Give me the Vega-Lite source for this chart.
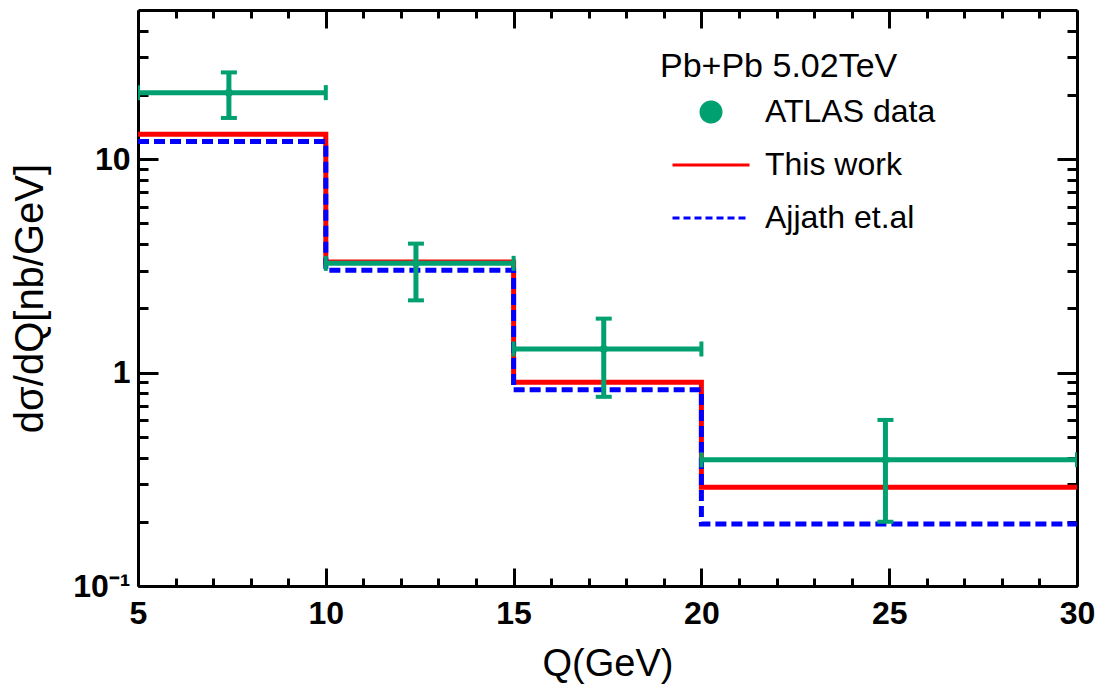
{
  "$schema": "https://vega.github.io/schema/vega-lite/v6.json",
  "width": 939,
  "height": 576,
  "autosize": {"type": "none"},
  "padding": {"left": 138, "top": 10, "right": 25, "bottom": 106},
  "background": "white",
  "config": {
    "view": {"stroke": null},
    "axis": {
      "grid": false,
      "domainColor": "black",
      "domainWidth": 3,
      "tickColor": "black",
      "tickWidth": 3,
      "labelFont": "Liberation Sans",
      "labelFontWeight": "bold",
      "labelFontSize": 32,
      "labelColor": "black",
      "labelFlush": false,
      "labelOverlap": false,
      "titleFont": "Liberation Sans",
      "titleFontWeight": "normal",
      "titleColor": "black"
    }
  },
  "datasets": {
    "atlas": [
      {"series": "ATLAS data", "q": 7.42, "lo": 5, "hi": 10, "v": 20.5, "vlo": 15.6, "vhi": 25.5},
      {"series": "ATLAS data", "q": 12.4, "lo": 10, "hi": 15, "v": 3.25, "vlo": 2.18, "vhi": 4.02},
      {"series": "ATLAS data", "q": 17.4, "lo": 15, "hi": 20, "v": 1.29, "vlo": 0.77, "vhi": 1.79},
      {"series": "ATLAS data", "q": 24.9, "lo": 20, "hi": 30, "v": 0.39, "vlo": 0.2, "vhi": 0.6}
    ],
    "curves": [
      {"model": "This work", "q": 5, "v": 13.1},
      {"model": "This work", "q": 10, "v": 3.3},
      {"model": "This work", "q": 15, "v": 0.9},
      {"model": "This work", "q": 20, "v": 0.29},
      {"model": "This work", "q": 30, "v": 0.29},
      {"model": "Ajjath et.al", "q": 5, "v": 12.1},
      {"model": "Ajjath et.al", "q": 10, "v": 3.02},
      {"model": "Ajjath et.al", "q": 15, "v": 0.83},
      {"model": "Ajjath et.al", "q": 20, "v": 0.195},
      {"model": "Ajjath et.al", "q": 30, "v": 0.195}
    ]
  },
  "layer": [
    {
      "data": {"name": "curves"},
      "transform": [{"filter": "datum.model === 'This work'"}],
      "mark": {"type": "line", "interpolate": "step-after", "strokeWidth": 5, "clip": true},
      "encoding": {
        "x": {
          "field": "q", "type": "quantitative",
          "scale": {"domain": [5, 30], "nice": false, "zero": false},
          "axis": {
            "orient": "bottom",
            "values": [5,6,7,8,9,10,11,12,13,14,15,16,17,18,19,20,21,22,23,24,25,26,27,28,29,30],
            "labelExpr": "datum.value % 5 === 0 ? datum.label : ''",
            "tickSize": {"condition": {"test": "datum.value % 5 === 0", "value": -18}, "value": -8},
            "labelPadding": 30,
            "title": "Q(GeV)",
            "titleFontSize": 38,
            "titlePadding": 6
          }
        },
        "y": {
          "field": "v", "type": "quantitative",
          "scale": {"type": "log", "domain": [0.1, 50], "nice": false},
          "axis": {
            "orient": "left",
            "values": [0.1,0.2,0.3,0.4,0.5,0.6,0.7,0.8,0.9,1,2,3,4,5,6,7,8,9,10,20,30,40],
            "labelExpr": "datum.value === 0.1 ? '10⁻¹' : datum.value === 1 ? '1' : datum.value === 10 ? '10' : ''",
            "tickSize": {"condition": {"test": "datum.value === 0.1 || datum.value === 1 || datum.value === 10", "value": -20}, "value": -10},
            "labelPadding": 28,
            "title": "dσ/dQ[nb/GeV]",
            "titleFontSize": 40,
            "titlePadding": 22
          }
        },
        "color": {
          "field": "model", "type": "nominal",
          "scale": {"domain": ["ATLAS data", "This work", "Ajjath et.al"], "range": ["#00A070", "#FF0000", "#0000FF"]},
          "legend": {
            "orient": "none",
            "direction": "vertical",
            "legendX": 522,
            "legendY": 40,
            "padding": 0,
            "title": "Pb+Pb 5.02TeV",
            "titleFont": "Liberation Sans",
            "titleFontSize": 34,
            "titleFontWeight": "normal",
            "titleColor": "black",
            "titleLimit": 500,
            "titlePadding": 12,
            "labelFont": "Liberation Sans",
            "labelFontSize": 32,
            "labelColor": "black",
            "labelLimit": 500,
            "labelOffset": 38,
            "symbolSize": 400,
            "rowPadding": 21,
            "encode": {
              "title": {"update": {"dx": {"value": -35}}},
              "symbols": {
                "update": {
                  "shape": {"signal": "datum.label === 'ATLAS data' ? 'circle' : 'M-3.85,0H3.85'"},
                  "size": {"value": 400},
                  "fill": {"signal": "datum.label === 'ATLAS data' ? '#00A070' : 'transparent'"},
                  "stroke": {"signal": "datum.label === 'ATLAS data' ? 'transparent' : (datum.label === 'This work' ? '#FF0000' : '#0000FF')"},
                  "strokeWidth": {"value": 3},
                  "strokeDash": {"signal": "datum.label === 'Ajjath et.al' ? [7, 4] : [1, 0]"},
                  "opacity": {"value": 1}
                }
              }
            }
          }
        }
      }
    },
    {
      "data": {"name": "curves"},
      "transform": [{"filter": "datum.model === 'Ajjath et.al'"}],
      "mark": {"type": "line", "interpolate": "step-after", "strokeWidth": 5, "strokeDash": [11, 5], "clip": true},
      "encoding": {
        "x": {"field": "q", "type": "quantitative", "scale": {"domain": [5, 30], "nice": false, "zero": false}, "axis": null},
        "y": {"field": "v", "type": "quantitative", "scale": {"type": "log", "domain": [0.1, 50], "nice": false}, "axis": null},
        "color": {"field": "model", "type": "nominal"}
      }
    },
    {
      "data": {"name": "atlas"},
      "mark": {"type": "rule", "strokeWidth": 5, "color": "#00A070", "clip": true},
      "encoding": {
        "x": {"field": "lo", "type": "quantitative", "axis": null},
        "x2": {"field": "hi"},
        "y": {"field": "v", "type": "quantitative", "axis": null}
      }
    },
    {
      "data": {"name": "atlas"},
      "mark": {"type": "rule", "strokeWidth": 5, "color": "#00A070", "clip": true},
      "encoding": {
        "x": {"field": "q", "type": "quantitative", "axis": null},
        "y": {"field": "vlo", "type": "quantitative", "axis": null},
        "y2": {"field": "vhi"}
      }
    },
    {
      "data": {"name": "atlas"},
      "mark": {"type": "tick", "orient": "horizontal", "size": 16, "thickness": 4, "color": "#00A070", "opacity": 1, "clip": true},
      "encoding": {
        "x": {"field": "q", "type": "quantitative", "axis": null},
        "y": {"field": "vhi", "type": "quantitative", "axis": null}
      }
    },
    {
      "data": {"name": "atlas"},
      "mark": {"type": "tick", "orient": "horizontal", "size": 16, "thickness": 4, "color": "#00A070", "opacity": 1, "clip": true},
      "encoding": {
        "x": {"field": "q", "type": "quantitative", "axis": null},
        "y": {"field": "vlo", "type": "quantitative", "axis": null}
      }
    },
    {
      "data": {"name": "atlas"},
      "mark": {"type": "tick", "orient": "vertical", "size": 15, "thickness": 4, "color": "#00A070", "opacity": 1, "clip": true},
      "encoding": {
        "x": {"field": "lo", "type": "quantitative", "axis": null},
        "y": {"field": "v", "type": "quantitative", "axis": null}
      }
    },
    {
      "data": {"name": "atlas"},
      "mark": {"type": "tick", "orient": "vertical", "size": 15, "thickness": 4, "color": "#00A070", "opacity": 1, "clip": true},
      "encoding": {
        "x": {"field": "hi", "type": "quantitative", "axis": null},
        "y": {"field": "v", "type": "quantitative", "axis": null}
      }
    },
    {
      "data": {"name": "atlas"},
      "mark": {"type": "point", "filled": true, "size": 60, "opacity": 1, "clip": true},
      "encoding": {
        "x": {
          "field": "q", "type": "quantitative",
          "axis": {
            "orient": "top",
            "values": [5,6,7,8,9,10,11,12,13,14,15,16,17,18,19,20,21,22,23,24,25,26,27,28,29,30],
            "labels": false,
            "tickSize": {"condition": {"test": "datum.value % 5 === 0", "value": -18}, "value": -8},
            "title": null
          }
        },
        "y": {
          "field": "v", "type": "quantitative",
          "axis": {
            "orient": "right",
            "values": [0.1,0.2,0.3,0.4,0.5,0.6,0.7,0.8,0.9,1,2,3,4,5,6,7,8,9,10,20,30,40],
            "labels": false,
            "tickSize": {"condition": {"test": "datum.value === 0.1 || datum.value === 1 || datum.value === 10", "value": -20}, "value": -10},
            "title": null
          }
        },
        "color": {"field": "series", "type": "nominal"}
      }
    }
  ],
  "resolve": {"axis": {"x": "independent", "y": "independent"}}
}
